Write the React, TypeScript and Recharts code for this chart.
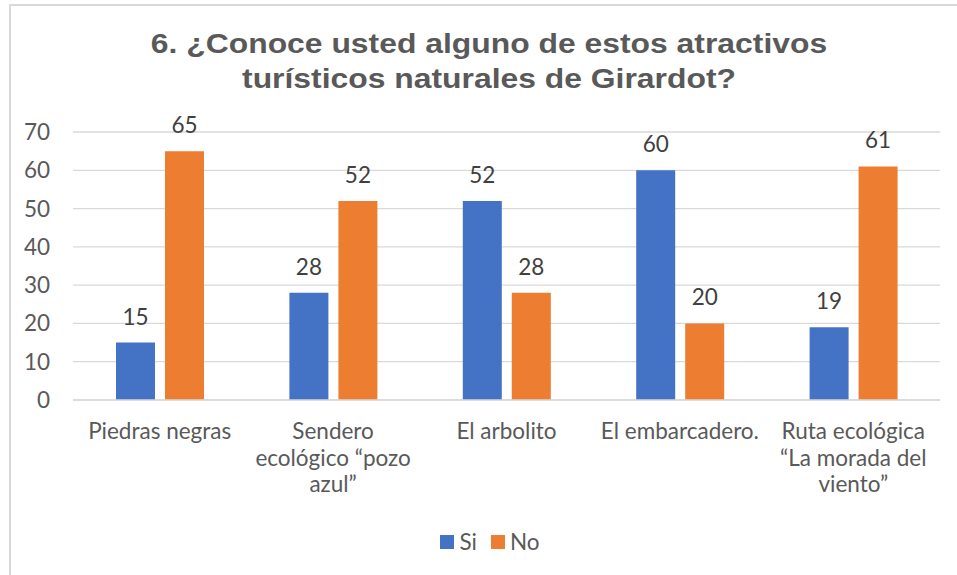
import React from 'react';
import { BarChart, Bar, XAxis, YAxis, CartesianGrid, LabelList } from 'recharts';

const categories = [
  'Piedras negras',
  'Sendero ecológico “pozo azul”',
  'El arbolito',
  'El embarcadero.',
  'Ruta ecológica “La morada del viento”',
];
const categoryLines = [
  ['Piedras negras'],
  ['Sendero', 'ecológico “pozo', 'azul”'],
  ['El arbolito'],
  ['El embarcadero.'],
  ['Ruta ecológica', '“La morada del', 'viento”'],
];
const siValues = [15, 28, 52, 60, 19];
const noValues = [65, 52, 28, 20, 61];
const yTicks = [0, 10, 20, 30, 40, 50, 60, 70];
const seriesNames = ['Si', 'No'];
const seriesColors = ['#4472C4', '#ED7D31'];
const titleLines = ['6. ¿Conoce usted alguno de estos atractivos', 'turísticos naturales de Girardot?'];

const data = categories.map((c, i) => ({ name: c, idx: i, si: siValues[i], no: noValues[i] }));

const FONT = 'Lato, "Open Sans", sans-serif';
const TEXT = '#595959';
const FS = 22.5;

const XTick = (props: any) => {
  const { x, y, payload } = props;
  const lines = categoryLines[payload.index] || [String(payload.value)];
  return (
    <text x={x} y={y} textAnchor="middle" fill={TEXT} fontFamily={FONT} fontSize={FS}>
      {lines.map((l, i) => (
        <tspan key={i} x={x} dy={i === 0 ? 31 : 26.5}>{l}</tspan>
      ))}
    </text>
  );
};

export default function App() {
  return (
    <div style={{ position: 'absolute', left: 0, top: 0, width: 957, height: 575, background: '#fff', overflow: 'hidden' }}>
      <div style={{ position: 'absolute', left: 9, top: 4, width: 948, height: 571, boxSizing: 'border-box', borderTop: '2px solid #d9d9d9', borderLeft: '2px solid #d9d9d9' }} />
      <div style={{ position: 'absolute', left: 0, top: 27, width: 978, textAlign: 'center', fontFamily: '"Liberation Sans", Arial, sans-serif', fontWeight: 'bold', fontSize: 27, lineHeight: '35px', color: TEXT, transform: 'scaleX(1.18)', transformOrigin: '489px 0' }}>
        {titleLines.map((t, i) => (<div key={i}>{t}</div>))}
      </div>
      <div style={{ position: 'absolute', left: 0, top: 0 }}>
        <BarChart width={957} height={575} data={data} margin={{ top: 132, right: 17, bottom: 115, left: 13 }} barSize={39} barGap={10}>
          <CartesianGrid vertical={false} stroke="#d9d9d9" strokeWidth={1.3} />
          <XAxis dataKey="name" height={60} tick={<XTick />} tickLine={false} axisLine={{ stroke: '#d9d9d9', strokeWidth: 1.3 }} interval={0} />
          <YAxis width={60} domain={[0, 70]} ticks={yTicks} axisLine={false} tickLine={false} tickSize={8} tickMargin={15} tick={{ fill: TEXT, fontFamily: FONT, fontSize: FS }} interval={0} />
          <Bar dataKey="si" name={seriesNames[0]} fill={seriesColors[0]} isAnimationActive={false}>
            <LabelList dataKey="si" position="top" offset={18} fill="#404040" fontFamily={FONT} fontSize={FS} />
          </Bar>
          <Bar dataKey="no" name={seriesNames[1]} fill={seriesColors[1]} isAnimationActive={false}>
            <LabelList dataKey="no" position="top" offset={18} fill="#404040" fontFamily={FONT} fontSize={FS} />
          </Bar>
        </BarChart>
      </div>
      <div style={{ position: 'absolute', left: 0, top: 528, width: 980, display: 'flex', justifyContent: 'center', alignItems: 'center', fontFamily: FONT, fontSize: FS, color: TEXT }}>
        {seriesNames.map((n, i) => (
          <div key={n} style={{ display: 'flex', alignItems: 'center', marginRight: i === 0 ? 14 : 0 }}>
            <span style={{ display: 'inline-block', width: 14, height: 14, background: seriesColors[i], marginRight: 5 }} />
            <span>{n}</span>
          </div>
        ))}
      </div>
    </div>
  );
}
